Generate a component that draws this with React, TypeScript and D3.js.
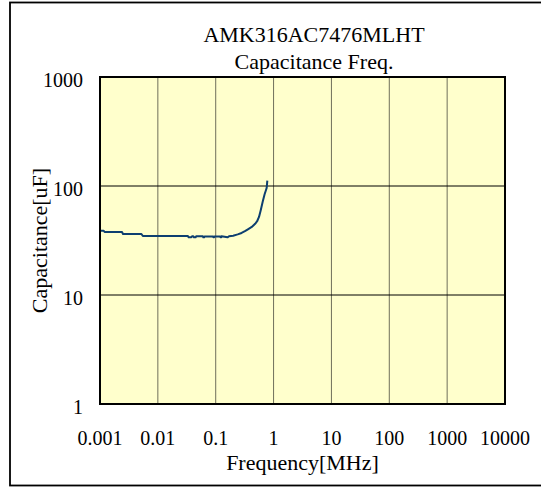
import React from "react";
import * as d3 from "d3";

const TITLE = "AMK316AC7476MLHT";
const SUBTITLE = "Capacitance Freq.";
const X_LABEL = "Frequency[MHz]";
const Y_LABEL = "Capacitance[uF]";

const xTicks = [0.001, 0.01, 0.1, 1, 10, 100, 1000, 10000];
const xTickLabels = ["0.001", "0.01", "0.1", "1", "10", "100", "1000", "10000"];
const yTicks = [1, 10, 100, 1000];
const yTickLabels = ["1", "10", "100", "1000"];

const freqMHz = [
  0.001, 0.00115, 0.0012, 0.0024, 0.0025, 0.0052, 0.0055, 0.033, 0.034, 0.038,
  0.039, 0.041, 0.042, 0.045, 0.046, 0.06, 0.061, 0.063, 0.064, 0.09, 0.091,
  0.094, 0.095, 0.12, 0.121, 0.125, 0.126, 0.16, 0.17, 0.2, 0.24, 0.28, 0.32,
  0.36, 0.42, 0.48, 0.52, 0.56, 0.6, 0.65, 0.7, 0.74, 0.76, 0.78,
];
const capUF = [
  38.9, 38.9, 37.9, 37.9, 36.3, 36.3, 34.8, 34.8, 33.8, 33.8,
  34.6, 34.6, 33.8, 33.8, 34.6, 34.6, 33.8, 33.8, 34.5, 34.5, 33.8,
  33.8, 34.5, 34.5, 33.8, 33.8, 34.6, 33.8, 34.6, 35.0, 36.0, 37.1, 38.5,
  40.0, 42.1, 45.0, 47.5, 52.0, 60.0, 72.0, 84.0, 92.0, 96.0, 112.0,
];

const W = 541;
const H = 487;
const plot = { left: 100, right: 505, top: 77, bottom: 404 };
const FONT = "'Liberation Serif', 'Times New Roman', serif";

export default function App() {
  const x = d3.scaleLog().domain([0.001, 10000]).range([plot.left, plot.right]);
  const y = d3.scaleLog().domain([1, 1000]).range([plot.bottom, plot.top]);
  const pts: [number, number][] = freqMHz.map((f, i) => [f, capUF[i]]);
  const line = d3
    .line<[number, number]>()
    .x((d) => x(d[0]))
    .y((d) => y(d[1]));
  const cx = (plot.left + plot.right) / 2;
  const cy = (plot.top + plot.bottom) / 2;

  return (
    <svg
      width={W}
      height={H}
      style={{ position: "absolute", left: 0, top: 0, background: "#fff" }}
      fontFamily={FONT}
    >
      <rect x={0} y={0} width={W} height={H} fill="#fff" />
      <rect x={10} y={2.5} width={W + 10} height={483} fill="none" stroke="#000" strokeWidth={1.8} />
      <rect
        x={plot.left}
        y={plot.top}
        width={plot.right - plot.left}
        height={plot.bottom - plot.top}
        fill="#FFFFCC"
      />
      {xTicks.slice(1, -1).map((t) => (
        <line key={"vx" + t} x1={x(t)} x2={x(t)} y1={plot.top} y2={plot.bottom} stroke="#6f6f5a" strokeWidth={1} />
      ))}
      {yTicks.slice(1, -1).map((t) => (
        <line key={"hy" + t} x1={plot.left} x2={plot.right} y1={y(t)} y2={y(t)} stroke="#000" strokeWidth={1} />
      ))}
      <path d={line(pts) || ""} fill="none" stroke="#0d3f70" strokeWidth={2} strokeLinejoin="round" />
      <rect
        x={plot.left}
        y={plot.top}
        width={plot.right - plot.left}
        height={plot.bottom - plot.top}
        fill="none"
        stroke="#000"
        strokeWidth={2}
      />
      {yTicks.map((t, i) => (
        <text key={"yl" + t} x={83} y={y(t) + 10} textAnchor="end" fontSize={20} fill="#000">
          {yTickLabels[i]}
        </text>
      ))}
      {xTicks.map((t, i) => (
        <text key={"xl" + t} x={x(t)} y={445} textAnchor="middle" fontSize={20} fill="#000">
          {xTickLabels[i]}
        </text>
      ))}
      <text x={cx} y={470} textAnchor="middle" fontSize={22} fill="#000">
        {X_LABEL}
      </text>
      <text
        transform={`translate(47,${cy}) rotate(-90)`}
        textAnchor="middle"
        fontSize={22}
        fill="#000"
      >
        {Y_LABEL}
      </text>
      <text x={314} y={42} textAnchor="middle" fontSize={22} fill="#000">
        {TITLE}
      </text>
      <text x={314} y={69} textAnchor="middle" fontSize={22} fill="#000">
        {SUBTITLE}
      </text>
    </svg>
  );
}
